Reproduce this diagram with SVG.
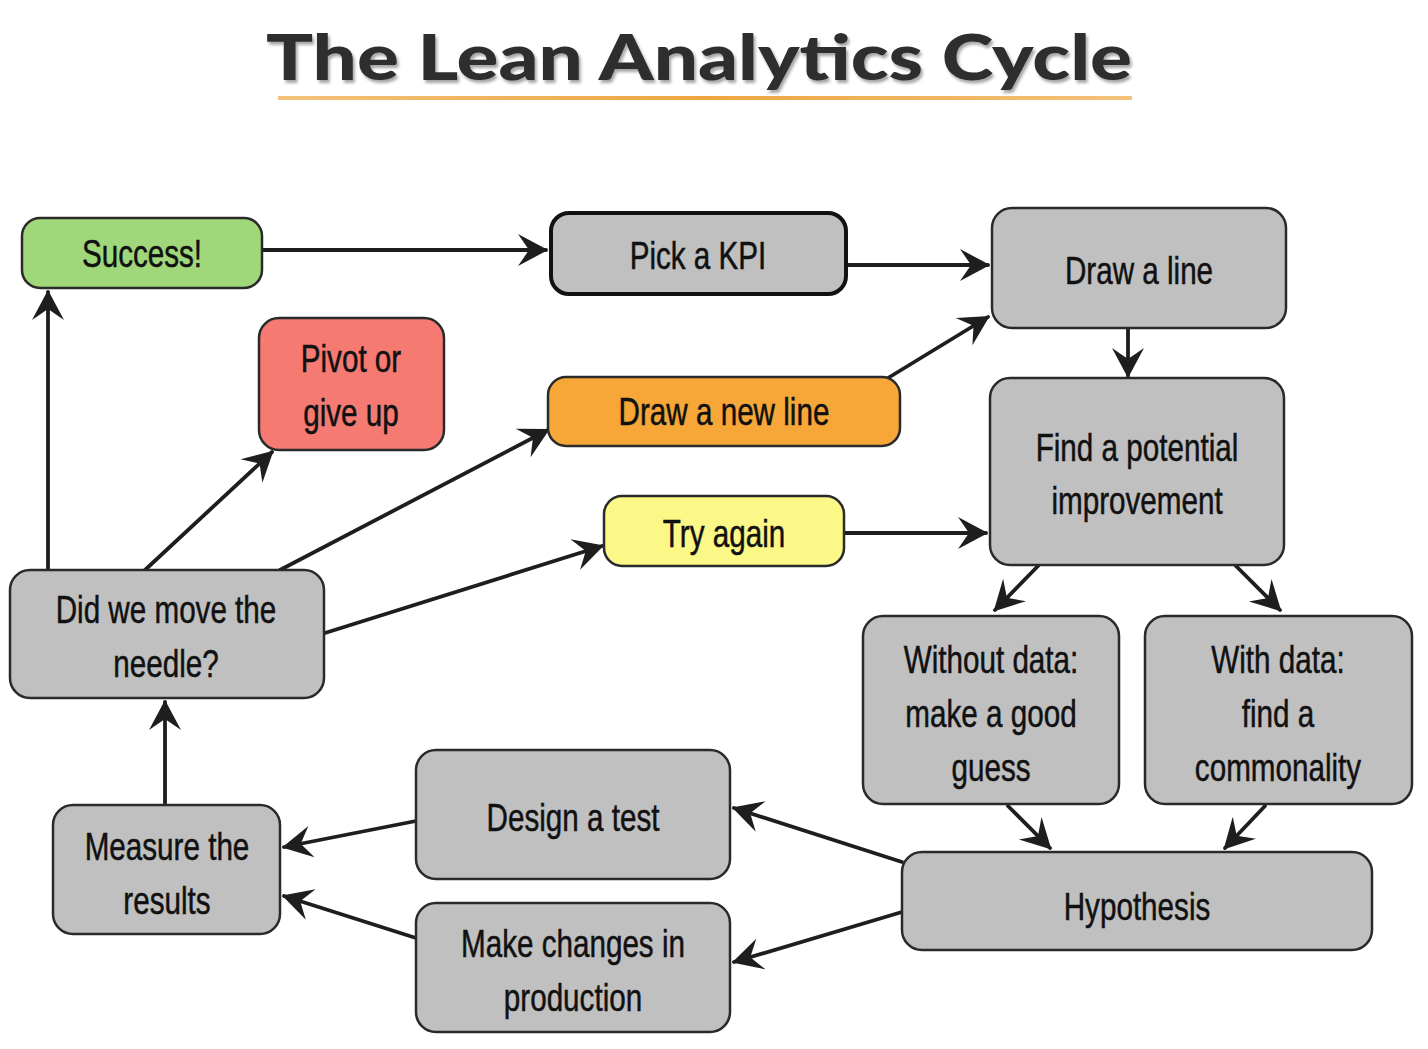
<svg xmlns="http://www.w3.org/2000/svg" width="1428" height="1049" viewBox="0 0 1428 1049">
  <defs>
    <style>
      .box { stroke: #2a2a2a; stroke-width: 2.5; }
      .gray { fill: #c0c0c0; }
      .lbl { font-family: "Liberation Sans", Arial, sans-serif; font-size: 38px; fill: #111; stroke: #111; stroke-width: 0.5; text-anchor: middle;
             transform-box: fill-box; transform-origin: center; transform: scaleX(0.78); }
      .edge { fill: none; stroke: #1e1e1e; stroke-width: 3.8; stroke-linecap: round; }
      .title { font-family: Lato, "Open Sans", "Liberation Sans", sans-serif; font-weight: 900; font-size: 62px; }
    </style>
    <marker id="arrow" viewBox="-30 -18 34 36" refX="0" refY="0" markerWidth="34" markerHeight="36" markerUnits="userSpaceOnUse" orient="auto">
      <path d="M2,0 L-28,-16 L-17,0 L-28,16 Z" fill="#1e1e1e"/>
    </marker>
    <linearGradient id="rule" x1="0" x2="1" y1="0" y2="0">
      <stop offset="0" stop-color="#f3c27a"/>
      <stop offset="0.5" stop-color="#eea640"/>
      <stop offset="1" stop-color="#f3c27a"/>
    </linearGradient>
    <filter id="shadow" x="-5%" y="-20%" width="110%" height="140%">
      <feDropShadow dx="2" dy="3" stdDeviation="1.5" flood-color="#000" flood-opacity="0.35"/>
    </filter>
  </defs>

  <rect width="1428" height="1049" fill="#ffffff"/>

  <!-- heading -->
  <g id="title">
    <text class="title" x="699" y="80" text-anchor="middle" fill="#2e2e2e" textLength="866" lengthAdjust="spacingAndGlyphs" filter="url(#shadow)">The Lean Analytics Cycle</text>
    <rect x="278" y="96" width="854" height="4" fill="url(#rule)"/>
  </g>

  <!-- connectors -->
  <g id="connectors">
    <path class="edge" d="M262,250 L546,250" marker-end="url(#arrow)"/>
    <path class="edge" d="M846,265 L988,265" marker-end="url(#arrow)"/>
    <path class="edge" d="M888,378 L988,317" marker-end="url(#arrow)"/>
    <path class="edge" d="M1128,328 L1128,376" marker-end="url(#arrow)"/>
    <path class="edge" d="M844,533 L986,533" marker-end="url(#arrow)"/>
    <path class="edge" d="M1038,566 L995,610" marker-end="url(#arrow)"/>
    <path class="edge" d="M1236,566 L1280,610" marker-end="url(#arrow)"/>
    <path class="edge" d="M1008,806 L1050,848" marker-end="url(#arrow)"/>
    <path class="edge" d="M1265,806 L1225,848" marker-end="url(#arrow)"/>
    <path class="edge" d="M902,862 L734,808" marker-end="url(#arrow)"/>
    <path class="edge" d="M902,912 L734,962" marker-end="url(#arrow)"/>
    <path class="edge" d="M416,821 L284,847" marker-end="url(#arrow)"/>
    <path class="edge" d="M416,938 L284,896" marker-end="url(#arrow)"/>
    <path class="edge" d="M165,805 L165,702" marker-end="url(#arrow)"/>
    <path class="edge" d="M48,570 L48,292" marker-end="url(#arrow)"/>
    <path class="edge" d="M145,570 L272,452" marker-end="url(#arrow)"/>
    <path class="edge" d="M280,570 L548,430" marker-end="url(#arrow)"/>
    <path class="edge" d="M325,633 L602,546" marker-end="url(#arrow)"/>
  </g>

  <!-- nodes -->
  <g id="success">
    <rect class="box" x="22" y="218" width="240" height="70" rx="18" fill="#a0d77a"/>
    <text class="lbl" x="142" y="267">Success!</text>
  </g>
  <g id="pick-kpi">
    <rect x="551" y="213" width="295" height="81" rx="18" class="gray" stroke="#111" stroke-width="4"/>
    <text class="lbl" x="698" y="269">Pick a KPI</text>
  </g>
  <g id="draw-line">
    <rect class="box gray" x="992" y="208" width="294" height="120" rx="20"/>
    <text class="lbl" x="1139" y="284">Draw a line</text>
  </g>
  <g id="pivot">
    <rect class="box" x="259" y="318" width="185" height="132" rx="20" fill="#f47a72"/>
    <text class="lbl" x="351" y="372">Pivot or</text>
    <text class="lbl" x="351" y="426">give up</text>
  </g>
  <g id="draw-new-line">
    <rect class="box" x="548" y="377" width="352" height="69" rx="18" fill="#f6a737"/>
    <text class="lbl" x="724" y="425">Draw a new line</text>
  </g>
  <g id="find-improvement">
    <rect class="box gray" x="990" y="378" width="294" height="187" rx="20"/>
    <text class="lbl" x="1137" y="461">Find a potential</text>
    <text class="lbl" x="1137" y="514">improvement</text>
  </g>
  <g id="try-again">
    <rect class="box" x="604" y="496" width="240" height="70" rx="18" fill="#fbf887"/>
    <text class="lbl" x="724" y="547">Try again</text>
  </g>
  <g id="moved-needle">
    <rect class="box gray" x="10" y="570" width="314" height="128" rx="20"/>
    <text class="lbl" x="166" y="623">Did we move the</text>
    <text class="lbl" x="166" y="677">needle?</text>
  </g>
  <g id="without-data">
    <rect class="box gray" x="863" y="616" width="256" height="188" rx="20"/>
    <text class="lbl" x="991" y="673">Without data:</text>
    <text class="lbl" x="991" y="727">make a good</text>
    <text class="lbl" x="991" y="781">guess</text>
  </g>
  <g id="with-data">
    <rect class="box gray" x="1145" y="616" width="267" height="188" rx="20"/>
    <text class="lbl" x="1278" y="673">With data:</text>
    <text class="lbl" x="1278" y="727">find a</text>
    <text class="lbl" x="1278" y="781">commonality</text>
  </g>
  <g id="measure">
    <rect class="box gray" x="53" y="805" width="227" height="129" rx="20"/>
    <text class="lbl" x="167" y="860">Measure the</text>
    <text class="lbl" x="167" y="914">results</text>
  </g>
  <g id="design-test">
    <rect class="box gray" x="416" y="750" width="314" height="129" rx="20"/>
    <text class="lbl" x="573" y="831">Design a test</text>
  </g>
  <g id="make-changes">
    <rect class="box gray" x="416" y="903" width="314" height="129" rx="20"/>
    <text class="lbl" x="573" y="957">Make changes in</text>
    <text class="lbl" x="573" y="1011">production</text>
  </g>
  <g id="hypothesis">
    <rect class="box gray" x="902" y="852" width="470" height="98" rx="20"/>
    <text class="lbl" x="1137" y="920">Hypothesis</text>
  </g>
</svg>
